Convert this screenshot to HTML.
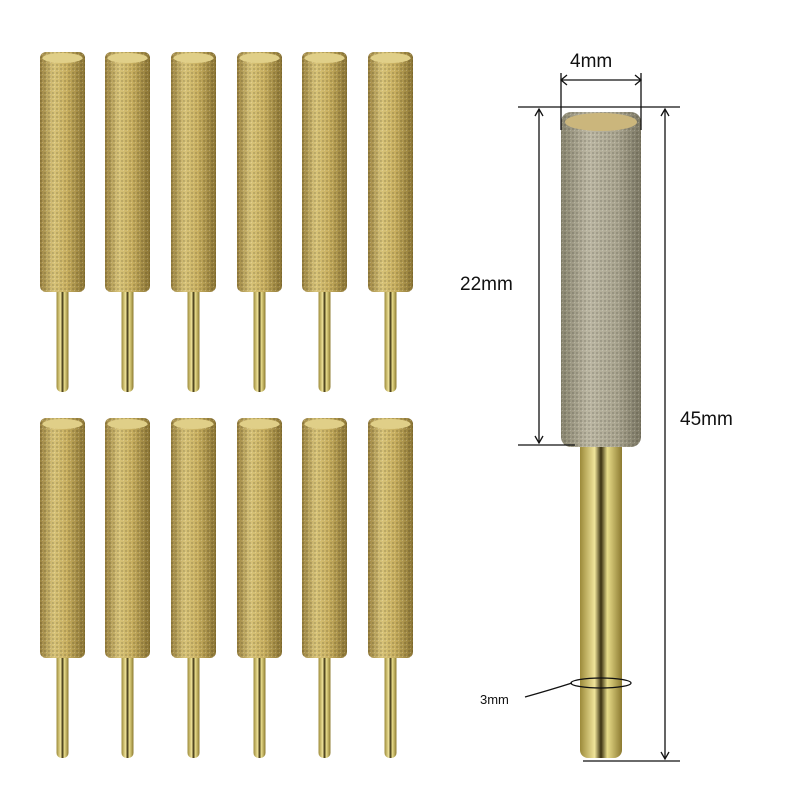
<!DOCTYPE html>
<html><head><style>body{margin:0;background:#fff}svg{display:block}</style></head><body>
<svg width="800" height="800" viewBox="0 0 800 800" xmlns="http://www.w3.org/2000/svg" font-family="Liberation Sans, sans-serif">
<defs>
<linearGradient id="hg" x1="0" x2="1">
<stop offset="0" stop-color="#9a8240"/><stop offset="0.3" stop-color="#d8c47a"/><stop offset="0.6" stop-color="#c9b060"/><stop offset="1" stop-color="#8a7434"/></linearGradient>
<linearGradient id="sg" x1="0" x2="1">
<stop offset="0" stop-color="#9c8a3a"/><stop offset="0.35" stop-color="#f0e49a"/><stop offset="0.5" stop-color="#3a3010"/><stop offset="0.65" stop-color="#e8dc8a"/><stop offset="1" stop-color="#8c7a30"/></linearGradient>
<linearGradient id="bg" x1="0" x2="1">
<stop offset="0" stop-color="#8a8670"/><stop offset="0.35" stop-color="#bdb8a4"/><stop offset="0.7" stop-color="#aaa590"/><stop offset="1" stop-color="#7c7864"/></linearGradient>
<pattern id="tx" width="4" height="4" patternUnits="userSpaceOnUse"><rect width="2" height="2" fill="#000" opacity="0.12"/><rect x="2" y="2" width="1" height="1" fill="#fff" opacity="0.2"/></pattern>
<g id="bit">
<rect x="16.5" y="0" width="12" height="340" rx="5" fill="url(#sg)"/>
<rect x="0" y="0" width="45" height="240" rx="6" fill="url(#hg)"/>
<rect x="0" y="0" width="45" height="240" rx="6" fill="url(#tx)"/>
<ellipse cx="22.5" cy="6" rx="20" ry="5" fill="#e0cf88"/>
</g>
</defs>
<g>
<use href="#bit" x="40" y="52"/><use href="#bit" x="105" y="52"/><use href="#bit" x="171" y="52"/><use href="#bit" x="237" y="52"/><use href="#bit" x="302" y="52"/><use href="#bit" x="368" y="52"/>
<use href="#bit" x="40" y="418" transform="translate(0,0)"/><use href="#bit" x="105" y="418"/><use href="#bit" x="171" y="418"/><use href="#bit" x="237" y="418"/><use href="#bit" x="302" y="418"/><use href="#bit" x="368" y="418"/>
</g>
<rect x="0" y="760" width="430" height="40" fill="#fff"/>
<!-- big bit -->
<rect x="580" y="440" width="42" height="318" rx="8" fill="url(#sg)"/>
<rect x="561" y="112" width="80" height="335" rx="10" fill="url(#bg)"/>
<rect x="561" y="112" width="80" height="335" rx="10" fill="url(#tx)"/>
<ellipse cx="601" cy="122" rx="36" ry="9" fill="#cbb67c"/>
<g stroke="#111" stroke-width="1.3" fill="none">
<line x1="518" y1="107" x2="680" y2="107"/>
<line x1="518" y1="445" x2="575" y2="445"/>
<line x1="583" y1="761" x2="680" y2="761"/>
<line x1="561" y1="73" x2="561" y2="130"/><line x1="641" y1="73" x2="641" y2="130"/>
<line x1="561" y1="80" x2="641" y2="80"/>
<path d="M567 75 L561 80 L567 85 M635 75 L641 80 L635 85"/>
<line x1="539" y1="109" x2="539" y2="443"/>
<path d="M535 116 L539 109 L543 116 M535 436 L539 443 L543 436"/>
<line x1="665" y1="109" x2="665" y2="759"/>
<path d="M661 116 L665 109 L669 116 M661 752 L665 759 L669 752"/>
<path d="M525 697 Q550 690 572 683"/>
<ellipse cx="601" cy="683" rx="30" ry="5"/>
</g>
<text x="570" y="67" font-size="19" fill="#111">4mm</text>
<text x="460" y="290" font-size="19" fill="#111">22mm</text>
<text x="680" y="425" font-size="19" fill="#111">45mm</text>
<text x="480" y="704" font-size="13" fill="#111">3mm</text>
</svg>
</body></html>
